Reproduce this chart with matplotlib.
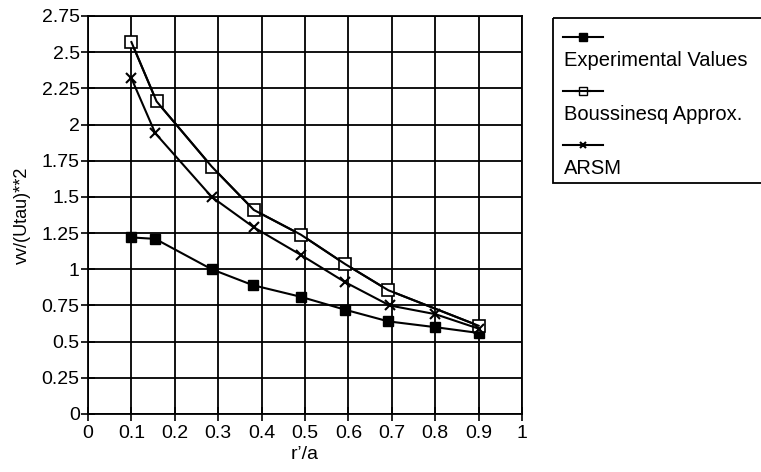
import matplotlib.pyplot as plt
from matplotlib.patches import Rectangle

plt.rcParams['font.family'] = ['Liberation Sans', 'DejaVu Sans']

# data
x_exp = [0.10, 0.155, 0.285, 0.38, 0.49, 0.593, 0.692, 0.80, 0.90]
y_exp = [1.22, 1.21, 1.00, 0.89, 0.81, 0.72, 0.64, 0.60, 0.56]

x_bous = [0.10, 0.158, 0.285, 0.382, 0.49, 0.593, 0.692, 0.90]
y_bous = [2.57, 2.16, 1.71, 1.41, 1.24, 1.035, 0.855, 0.61]

x_arsm = [0.10, 0.155, 0.285, 0.382, 0.49, 0.593, 0.695, 0.80, 0.90]
y_arsm = [2.32, 1.94, 1.50, 1.29, 1.10, 0.91, 0.75, 0.69, 0.59]

labels = ['Experimental Values', 'Boussinesq Approx.', 'ARSM']

W, H = 761, 472
fig = plt.figure(figsize=(W / 100, H / 100), dpi=100)
fig.patch.set_facecolor('white')

# plot area in pixels: left 88, right 522, top 16, bottom 414
ax = fig.add_axes([88 / W, (H - 414) / H, (522 - 88) / W, (414 - 16) / H])
ax.set_xlim(0, 1)
ax.set_ylim(0, 2.75)
ax.set_xticks([i / 10 for i in range(11)])
ax.set_xticklabels(['0', '0.1', '0.2', '0.3', '0.4', '0.5', '0.6', '0.7', '0.8', '0.9', '1'])
ax.set_yticks([i * 0.25 for i in range(12)])
ax.set_yticklabels(['0', '0.25', '0.5', '0.75', '1', '1.25', '1.5', '1.75', '2', '2.25', '2.5', '2.75'])
ax.grid(True, color='black', linewidth=1.3)
for s in ax.spines.values():
    s.set_linewidth(1.3)
ax.tick_params(direction='inout', length=10, width=1.2, labelsize=14, pad=1)
ax.tick_params(axis='x', pad=3)
ax.set_xlabel('r’/a', fontsize=14, labelpad=3)
ax.set_ylabel('vv/(Utau)**2', fontsize=13, labelpad=8)

ax.plot(x_exp, y_exp, color='black', lw=1.5, marker='s', ms=7, mfc='black', mec='black', zorder=3)
ax.plot(x_bous, y_bous, color='black', lw=1.5, marker='s', ms=8, mfc='white', mec='black', mew=1.2, zorder=3)
ax.plot(x_bous, y_bous, color='black', lw=1.5, zorder=4)
ax.plot(x_arsm, y_arsm, color='black', lw=1.5, marker='x', ms=7, mew=1.5, zorder=3)

# legend box (handle above each label)
lg = fig.add_axes([552 / W, (H - 184) / H, (W - 552) / W, (184 - 17) / H])
lg.set_xlim(0, W - 552)
lg.set_ylim(184 - 17, 0)
lg.axis('off')
lg.add_patch(Rectangle((1, 1), W - 552 + 20, 184 - 17 - 2, fill=False, lw=1.3, ec='black', clip_on=False))
rows = [20, 74, 128]
styles = [dict(marker='s', ms=6, mfc='black', mec='black'),
          dict(marker='s', ms=6, mfc='white', mec='black'),
          dict(marker='x', ms=5, mew=1.5)]
for yy, lab, st in zip(rows, labels, styles):
    lg.plot([11, 51], [yy, yy], color='black', lw=1.5)
    lg.plot([31], [yy], color='black', lw=0, **st)
    if st.get('mfc') == 'white':
        lg.plot([24, 38], [yy, yy], color='black', lw=1.5)
    lg.text(12, yy + 24, lab, fontsize=14.5, va='center', ha='left')

fig.savefig('out.png', dpi=100)
